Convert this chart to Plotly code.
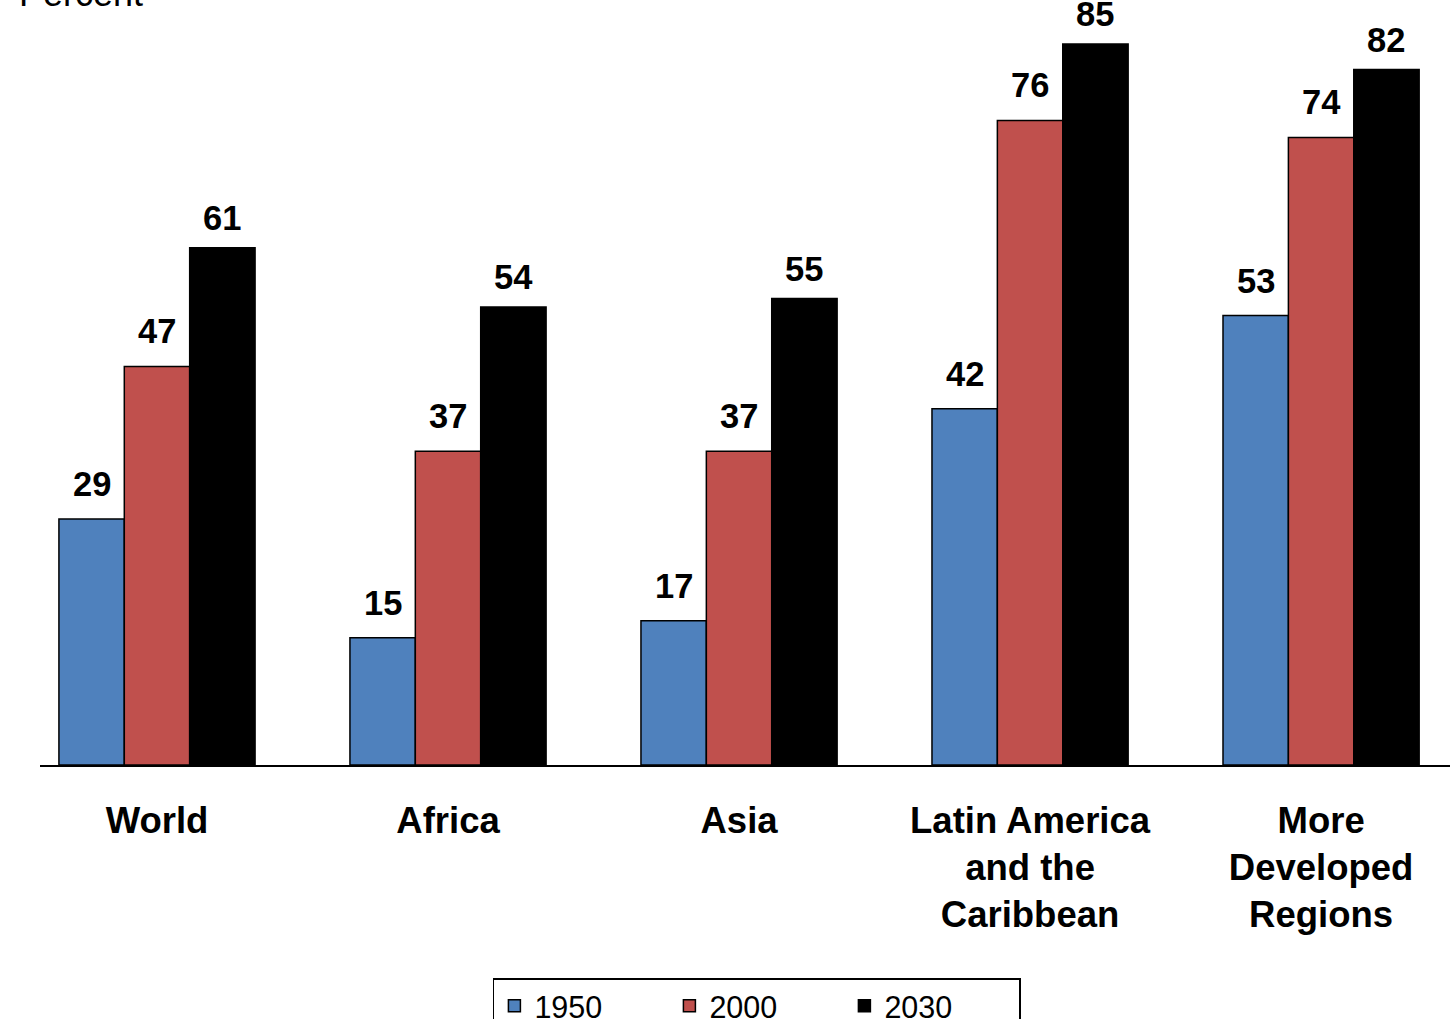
import plotly.graph_objects as go

categories = ["World", "Africa", "Asia", "Latin America<br>and the<br>Caribbean", "More<br>Developed<br>Regions"]
v1950 = [29, 15, 17, 42, 53]
v2000 = [47, 37, 37, 76, 74]
v2030 = [61, 54, 55, 85, 82]
series_names = ["1950", "2000", "2030"]
colors = ["#4F81BD", "#C0504D", "#000000"]

FONT = "Liberation Sans, Arial, sans-serif"
BARGAP = 0.326
label_lift = [14, 14, 9]  # px above bar top per series

series = [v1950, v2000, v2030]
n = len(series)
bw = (1 - BARGAP) / n

fig = go.Figure()
for name, vals, col in zip(series_names, series, colors):
    fig.add_trace(go.Bar(
        name=name, x=list(range(len(categories))), y=vals,
        marker=dict(color=col, line=dict(color="#000000", width=1.5)),
    ))

# value labels above bars, placed via data coordinates of each bar
for j, vals in enumerate(series):
    for i, v in enumerate(vals):
        fig.add_annotation(
            x=i + (j - (n - 1) / 2) * bw, y=v, xref="x", yref="y",
            text=f"<b>{v}</b>", showarrow=False, yanchor="bottom",
            yshift=label_lift[j],
            font=dict(family=FONT, size=34.5, color="#000000"),
        )

fig.update_layout(
    width=1450, height=1019,
    margin=dict(l=40, r=0, t=0, b=254),
    plot_bgcolor="white", paper_bgcolor="white",
    barmode="group", bargap=BARGAP, bargroupgap=0,
    font=dict(family=FONT, color="#000000"),
    xaxis=dict(
        range=[-0.402, 4.443],
        tickmode="array", tickvals=list(range(len(categories))), ticktext=categories,
        tickfont=dict(family=FONT, size=36.5, color="#000000", weight="bold"),
        showline=True, linecolor="#000000", linewidth=1.5,
        ticks="", showgrid=False, zeroline=False, ticklabelstandoff=22,
    ),
    yaxis=dict(range=[0, 90.2], visible=False, showgrid=False),
    showlegend=True,
    legend=dict(
        orientation="h", xref="container", yref="container",
        x=0.522, xanchor="center", y=1 - 978 / 1019, yanchor="top",
        bordercolor="#000000", borderwidth=1.5, bgcolor="white",
        font=dict(family=FONT, size=30.5, color="#000000"),
        entrywidth=130, entrywidthmode="pixels",
        traceorder="normal",
    ),
)

fig.add_annotation(
    text="Percent", xref="paper", yref="paper", x=-0.0165, y=1,
    xanchor="left", yanchor="bottom", yshift=-16, showarrow=False,
    font=dict(family=FONT, size=36, color="#000000"),
)

fig.write_html("out.html")
